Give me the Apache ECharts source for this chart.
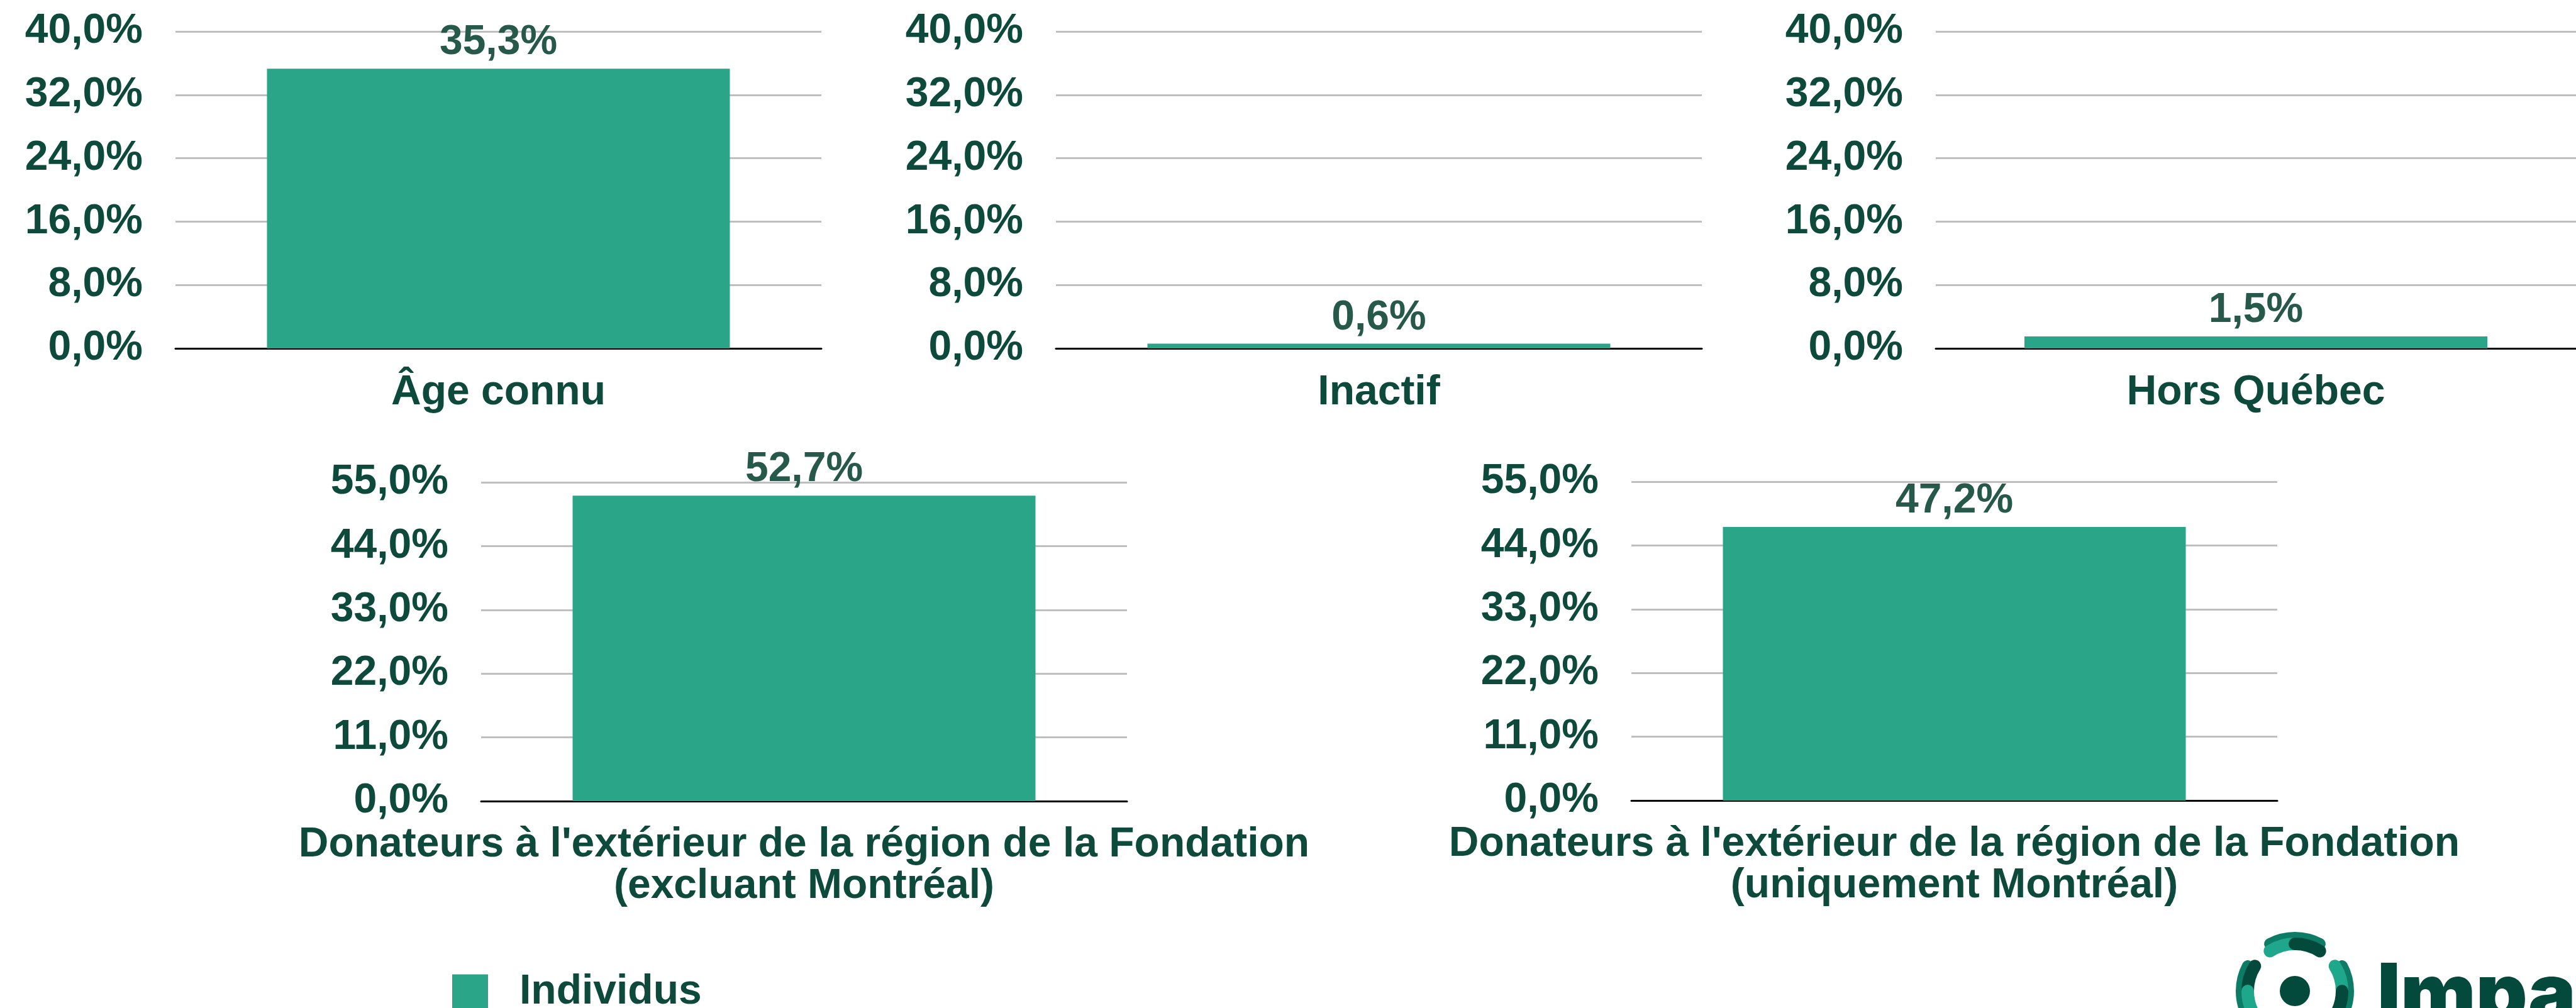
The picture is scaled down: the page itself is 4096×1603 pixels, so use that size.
<!DOCTYPE html>
<html lang="fr">
<head>
    <meta charset="UTF-8">
    <title>Individus</title>
    <style>
        html, body { margin: 0; padding: 0; background: #ffffff; }
    </style>
</head>
<body>
<div id="main" style="width: 4096px;height:1603px;"></div>
<script src="https://cdn.jsdelivr.net/npm/echarts@6.0.0/dist/echarts.min.js"></script>
<script>
    // données
    var seriesName = 'Individus';
    var topCategories = ['Âge connu', 'Inactif', 'Hors Québec'];
    var topValues = [35.3, 0.6, 1.5];
    var topTicks = [0, 8, 16, 24, 32, 40];
    var bottomCategories = [
        "Donateurs à l'extérieur de la région de la Fondation\n(excluant Montréal)",
        "Donateurs à l'extérieur de la région de la Fondation\n(uniquement Montréal)"
    ];
    var bottomValues = [52.7, 47.2];
    var bottomTicks = [0, 11, 22, 33, 44, 55];

    var dark = '#0e4a3b';
    var labelColor = '#27594b';
    var barColor = '#2aa587';
    var font = '"Liberation Sans", Arial, sans-serif';

    function pct(v) {
        return Number(v).toFixed(1).replace('.', ',') + '%';
    }

    // une grille par panneau
    var panels = [
        {left: 279, top: 50, width: 1027, height: 504, cat: topCategories[0], value: topValues[0], ticks: topTicks, margin: 38},
        {left: 1679, top: 50, width: 1027, height: 504, cat: topCategories[1], value: topValues[1], ticks: topTicks, margin: 38},
        {left: 3078, top: 50, width: 1027, height: 504, cat: topCategories[2], value: topValues[2], ticks: topTicks, margin: 38},
        {left: 765, top: 767, width: 1027, height: 507, cat: bottomCategories[0], value: bottomValues[0], ticks: bottomTicks, margin: 37},
        {left: 2594, top: 766, width: 1027, height: 507, cat: bottomCategories[1], value: bottomValues[1], ticks: bottomTicks, margin: 37}
    ];

    var grids = [], xAxes = [], yAxes = [], series = [];
    panels.forEach(function (p, i) {
        grids.push({left: p.left, top: p.top, width: p.width, height: p.height, containLabel: false});
        xAxes.push({
            type: 'category',
            gridIndex: i,
            data: [p.cat],
            axisTick: {show: false},
            axisLine: {show: true, lineStyle: {color: '#000000', width: 3}},
            axisLabel: {
                margin: p.margin,
                color: dark,
                fontFamily: font,
                fontWeight: 'bold',
                fontSize: 66,
                lineHeight: 66,
                align: 'center'
            }
        });
        yAxes.push({
            type: 'value',
            gridIndex: i,
            min: p.ticks[0],
            max: p.ticks[p.ticks.length - 1],
            interval: p.ticks[1] - p.ticks[0],
            axisLine: {show: false},
            axisTick: {show: false},
            splitLine: {lineStyle: {color: '#bfbfbf', width: 3}},
            axisLabel: {
                margin: 52,
                color: dark,
                fontFamily: font,
                fontWeight: 'bold',
                fontSize: 66,
                formatter: pct
            }
        });
        series.push({
            name: seriesName,
            type: 'bar',
            xAxisIndex: i,
            yAxisIndex: i,
            barWidth: 736,
            data: [p.value],
            itemStyle: {color: barColor},
            label: {
                show: true,
                position: 'top',
                distance: 8,
                color: labelColor,
                fontFamily: font,
                fontWeight: 'bold',
                fontSize: 66,
                formatter: function (d) { return pct(d.value); }
            }
        });
    });

    // logo en bas à droite
    var deg = Math.PI / 180;
    var cx = 3649, cy = 1576;
    var mid = '#0c7c66', light = '#1ea78a', deep = '#034a3c';
    function band(r, a0, a1, color, w) {
        return {
            type: 'arc',
            shape: {cx: cx, cy: cy, r: r, startAngle: a0 * deg, endAngle: a1 * deg, clockwise: true},
            style: {stroke: color, lineWidth: w, fill: null, lineCap: 'round'},
            silent: true
        };
    }
    var logo = [
        band(85, -118, -62, mid, 18),
        band(75, -122, -90, light, 20),
        band(75, -90, -58, deep, 20),
        band(85, 152, 208, mid, 18),
        band(75, 180, 212, deep, 20),
        band(75, 148, 180, light, 20),
        band(85, -28, 28, mid, 18),
        band(75, -32, 0, light, 20),
        band(75, 0, 32, deep, 20),
        {type: 'circle', shape: {cx: cx, cy: cy, r: 24}, style: {fill: deep}, silent: true},
        {
            type: 'text',
            left: 3780,
            top: 1521,
            style: {
                text: 'Impact',
                fill: deep,
                fontFamily: 'Inter, sans-serif',
                fontWeight: 900,
                fontSize: 127
            },
            silent: true
        }
    ];

    var myChart = echarts.init(document.getElementById('main'));
    var option = {
        backgroundColor: '#ffffff',
        animation: false,
        legend: {
            left: 714,
            top: 1540,
            icon: 'rect',
            itemWidth: 57,
            itemHeight: 57,
            data: [seriesName],
            textStyle: {
                color: dark,
                fontFamily: font,
                fontWeight: 'bold',
                fontSize: 66,
                padding: [0, 0, 0, 45]
            }
        },
        grid: grids,
        xAxis: xAxes,
        yAxis: yAxes,
        series: series,
        graphic: logo
    };
    myChart.setOption(option);
</script>
</body>
</html>
